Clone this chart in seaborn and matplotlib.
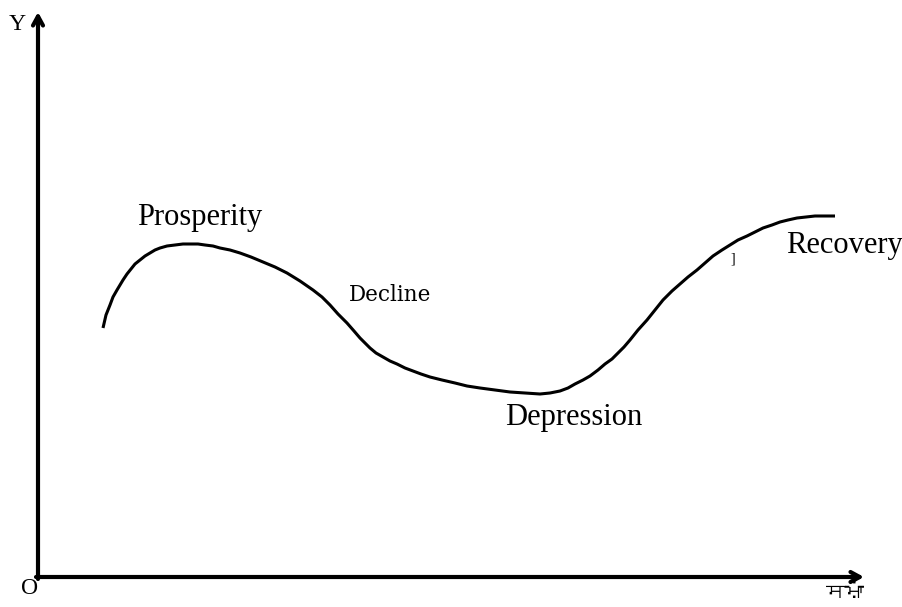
import numpy as np
import pandas as pd
import matplotlib
matplotlib.use("Agg")
import matplotlib.pyplot as plt
from matplotlib import font_manager
import seaborn as sns

# Business cycle curve (x = time, y = activity level)
time = [65, 68, 72, 75, 79, 82, 85, 89, 93, 97, 102, 107, 112, 117, 122, 129,
        137, 145, 152, 160, 167, 175, 182, 192, 202, 213, 225, 237, 249, 262,
        275, 284, 292, 300, 309, 316, 322, 327, 332, 338, 345, 352, 359, 367,
        375, 383, 392, 404, 417, 429, 442, 457, 472, 487, 502, 512, 522, 530,
        537, 545, 552, 560, 567, 574, 580, 586, 592, 600, 609, 617, 625, 634,
        642, 650, 659, 667, 675, 684, 692, 700, 709, 717, 725, 734, 742, 750,
        759, 768, 777, 787, 797]
level = [249, 262, 272, 280, 287, 292, 297, 303, 308, 313, 317, 321, 324, 327,
         329, 331, 332, 333, 333, 333, 332, 331, 329, 327, 324, 320, 315, 310,
         304, 296, 287, 280, 272, 263, 254, 246, 239, 234, 229, 224, 220, 216,
         213, 209, 206, 203, 200, 197, 194, 191, 189, 187, 185, 184, 183, 184,
         186, 189, 193, 197, 201, 207, 213, 218, 224, 230, 237, 247, 257, 267,
         277, 286, 293, 300, 307, 314, 321, 327, 332, 337, 341, 345, 349, 352,
         355, 357, 359, 360, 361, 361, 361]

phase_labels = ["Prosperity", "Decline", "Depression", "Recovery"]
phase_x = [162, 352, 536, 806]
phase_y = [359, 282, 159, 332]
axis_y_label = "Y"
axis_origin_label = "O"
axis_x_label = "ਸਮਾਂ"

sns.set_theme(style="white")
plt.rcParams["font.family"] = ["Liberation Serif", "DejaVu Serif"]
plt.rcParams["text.color"] = "black"

# find an installed font that has Gurmukhi glyphs, if any
gurmukhi_font = None
try:
    from fontTools.ttLib import TTFont
    for f in font_manager.fontManager.ttflist:
        try:
            tt = TTFont(f.fname, fontNumber=0, lazy=True)
            cmap = tt.getBestCmap()
            if cmap and 0x0A38 in cmap and 0x0A2E in cmap:
                gurmukhi_font = f.name
                break
        except Exception:
            continue
except Exception:
    pass

fig = plt.figure(figsize=(9.03, 6.07), dpi=100)
ax = fig.add_axes([0, 0, 1, 1])
ax.set_xlim(-38, 865)
ax.set_ylim(-30, 577)
ax.axis("off")

df = pd.DataFrame({"time": time, "level": level})
sns.lineplot(data=df, x="time", y="level", ax=ax, color="black", lw=2.2,
             sort=False, estimator=None, solid_joinstyle="round",
             solid_capstyle="butt")

# axes with arrows
arrow = dict(arrowstyle="->,head_length=0.55,head_width=0.3", lw=3,
             color="black", shrinkA=0, shrinkB=0)
ax.annotate("", xy=(0, 565), xytext=(0, -2), arrowprops=arrow)
ax.annotate("", xy=(826, 0), xytext=(-2, 0), arrowprops=arrow)

ax.text(-21, 552, axis_y_label, fontsize=17, ha="center", va="center")
ax.text(-8, -11, axis_origin_label, fontsize=17, ha="center", va="center")
xfam = [gurmukhi_font, "DejaVu Sans"] if gurmukhi_font else ["DejaVu Sans"]
ax.text(807, -21, axis_x_label, fontsize=14, ha="center", va="baseline",
        family=xfam, fontweight="bold")

for lab, x, y in zip(phase_labels, phase_x, phase_y):
    if lab == "Decline":
        ax.text(x, y, lab, fontsize=15.5, ha="center", va="center",
                family=["DejaVu Serif"])
    else:
        ax.text(x, y, lab, fontsize=22, ha="center", va="center")

ax.text(695, 318, "]", fontsize=10, ha="center", va="center")

fig.savefig("out.png", dpi=100)
